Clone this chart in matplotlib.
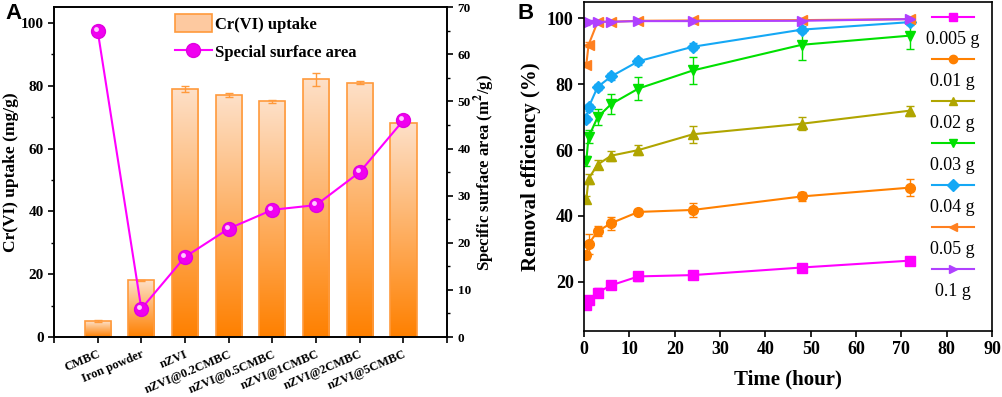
import numpy as np
import matplotlib
matplotlib.use("Agg")
import matplotlib.pyplot as plt
from matplotlib.colors import LinearSegmentedColormap
from matplotlib.lines import Line2D
from matplotlib.patches import Rectangle
import matplotlib.transforms as mtransforms

plt.rcParams['font.family'] = ['Liberation Serif', 'DejaVu Serif']
plt.rcParams['mathtext.fontset'] = 'stix'

# ---- panel A data ----
materials = ['CMBC', 'Iron powder', 'nZVI', 'nZVI@0.2CMBC', 'nZVI@0.5CMBC',
             'nZVI@1CMBC', 'nZVI@2CMBC', 'nZVI@5CMBC']
uptake = [5, 18, 79, 77, 75, 82, 81, 68]
uptake_err = [0.3, 0.3, 1.0, 0.6, 0.5, 2.0, 0.4, 0.2]
surface_area = [65, 6, 17, 23, 27, 28, 35, 46]

# ---- panel B data ----
time_h = [0.5, 1, 3, 6, 12, 24, 48, 72]
doses = ['0.005 g', '0.01 g', '0.02 g', '0.03 g', '0.04 g', '0.05 g', '0.1 g']
eff_0005 = [13, 14.3, 16.7, 18.9, 21.6, 22.0, 24.3, 26.4]
err_0005 = [1.0, 1.2, 1.5, 1.0, 1.3, 1.0, 0.8, 0.6]
eff_001 = [28, 31.5, 35.3, 37.8, 41.2, 41.8, 45.9, 48.6]
err_001 = [1.0, 3.0, 1.5, 2.0, 1.0, 2.0, 1.5, 2.5]
eff_002 = [45, 51.3, 55.6, 58.3, 60.0, 64.8, 68.0, 72.0]
err_002 = [1.0, 1.5, 1.5, 1.5, 1.5, 2.5, 2.0, 1.5]
eff_003 = [56.8, 64.0, 70.0, 74.0, 78.7, 84.2, 92.0, 94.8]
err_003 = [1.5, 2.0, 2.5, 3.0, 3.5, 4.0, 4.5, 4.0]
eff_004 = [69.4, 73.0, 79.2, 82.4, 87.0, 91.4, 96.6, 98.9]
err_004 = [1.0, 1.0, 1.0, 1.0, 1.0, 1.0, 1.0, 0.8]
eff_005 = [86, 92, 99.0, 99.0, 99.3, 99.4, 99.5, 99.8]
err_005 = [0.8, 0.8, 0.5, 0.5, 0.5, 0.5, 0.5, 0.3]
eff_01 = [98.8, 99.0, 99.0, 99.0, 99.2, 99.2, 99.3, 99.8]
err_01 = [0.8, 0.5, 0.5, 0.5, 0.5, 0.5, 0.5, 0.3]

series_b = [eff_0005, eff_001, eff_002, eff_003, eff_004, eff_005, eff_01]
errors_b = [err_0005, err_001, err_002, err_003, err_004, err_005, err_01]
colors_b = ['#FF00FF', '#FF8000', '#B0A500', '#00E000', '#15A8F5', '#FF8020', '#B040FF']
markers_b = ['s', 'o', '^', 'v', 'D', '<', '>']

fig = plt.figure(figsize=(10.03, 3.97), dpi=100)

# ================= panel A =================
axA = fig.add_axes([0.0538, 0.151, 0.392, 0.831])
axA2 = axA.twinx()
x = np.arange(1, len(materials) + 1)
bars = axA.bar(x, uptake, width=0.6, color='none', edgecolor='#FF9A3C',
               linewidth=1.2, zorder=2)
grad = LinearSegmentedColormap.from_list('g', ['#FF8000', '#FDE0C8'])
g = np.linspace(0, 1, 256).reshape(-1, 1)
for b in bars:
    x0, w, h = b.get_x(), b.get_width(), b.get_height()
    im = axA.imshow(g, cmap=grad, origin='lower', aspect='auto',
                    extent=[x0, x0 + w, 0, h], zorder=1)
    im.set_clip_path(b)
axA.errorbar(x, uptake, yerr=uptake_err, fmt='none', ecolor='#FF9A3C',
             elinewidth=1.0, capsize=3, capthick=1.0, zorder=3)
axA.set_xlim(0, 9)
axA.set_ylim(0, 105)
axA.set_xticks(range(10))
axA.set_xticklabels([''] + materials + [''], rotation=23, ha='right',
                    rotation_mode='anchor', fontsize=8.8, fontweight='bold')
axA.set_yticks([0, 20, 40, 60, 80, 100])
axA.set_yticks([10, 30, 50, 70, 90], minor=True)
axA.tick_params(axis='y', labelsize=11, width=1.2, length=4, direction='out')
axA.tick_params(axis='y', which='minor', width=1.0, length=2.5)
axA.tick_params(axis='x', width=1.2, length=4, direction='out', pad=4)
for lab in axA.get_yticklabels():
    lab.set_fontweight('bold')
axA.set_ylabel('Cr(VI) uptake (mg/g)', fontsize=12.5, fontweight='bold', labelpad=1)

axA2.set_ylim(0, 70)
axA2.set_yticks(range(0, 71, 10))
axA2.set_yticks(range(5, 70, 10), minor=True)
axA2.tick_params(axis='y', labelsize=9.5, width=1.2, length=4, direction='out')
axA2.tick_params(axis='y', which='minor', width=1.0, length=2.5)
for lab in axA2.get_yticklabels():
    lab.set_fontweight('bold')
axA2.set_ylabel('Specific surface area (m$^\\mathbf{2}$/g)', fontsize=12,
                fontweight='bold', rotation=90, labelpad=1)
axA2.plot(x, surface_area, color='#FF00FF', lw=1.5, marker='o', ms=10,
          mfc='#F000F0', mec='#E000E0', zorder=4)
hl = mtransforms.offset_copy(axA2.transData, fig=fig, x=-1.5, y=1.5, units='points')
axA2.plot(x, surface_area, ls='none', marker='o', ms=3.5, mfc='#FFC8FF',
          mec='none', transform=hl, zorder=5)
for ax in (axA, axA2):
    for s in ax.spines.values():
        s.set_linewidth(1.2)

leg_handles = [Rectangle((0, 0), 1, 1, facecolor='#FDC9A0', edgecolor='#FF9A3C', lw=1.2),
               Line2D([], [], color='#FF00FF', lw=1.5, marker='o', ms=10,
                      mfc='#F000F0', mec='#E000E0')]
axA2.legend(leg_handles, ['Cr(VI) uptake', 'Special surface area'],
            loc='upper left', bbox_to_anchor=(0.27, 1.025), frameon=False,
            prop={'weight': 'bold', 'size': 12}, handlelength=2.2,
            handleheight=1.3, labelspacing=0.6, handletextpad=0.2)

fig.text(0.005, 0.965, 'A', fontsize=16, fontweight='bold',
         family='Liberation Sans', va='center')

# ================= panel B =================
axB = fig.add_axes([0.5823, 0.1662, 0.4068, 0.8287])
for yv, ev, c, m in zip(series_b, errors_b, colors_b, markers_b):
    ms = 6 if m == 'D' else 7
    axB.errorbar(time_h, yv, yerr=ev, color=c, lw=1.5, marker=m, ms=ms,
                 capsize=3, elinewidth=1.0, capthick=1.0)
axB.set_xlim(0, 90)
axB.set_ylim(5, 105)
axB.set_xticks(range(0, 91, 10))
axB.set_yticks([20, 40, 60, 80, 100])
axB.tick_params(labelsize=13, width=1.2, length=4, direction='out')
for lab in axB.get_xticklabels() + axB.get_yticklabels():
    lab.set_fontweight('bold')
for s in axB.spines.values():
    s.set_linewidth(1.2)
axB.set_xlabel('Time (hour)', fontsize=15, fontweight='bold', labelpad=8)
axB.set_ylabel('Removal efficiency (%)', fontsize=15, fontweight='bold', labelpad=4)

# stacked legend: line sample above its label
for i, (lab, c, m) in enumerate(zip(doses, colors_b, markers_b)):
    yl = 0.955 - i * 0.1277
    axB.add_line(Line2D([0.852, 0.9035, 0.955], [yl, yl, yl], color=c, lw=1.5,
                        marker=m, ms=6, markevery=[1], transform=axB.transAxes))
    axB.text(0.903, yl - 0.068, lab, transform=axB.transAxes, fontsize=13,
             ha='center', va='center')

fig.text(0.516, 0.965, 'B', fontsize=16, fontweight='bold',
         family='Liberation Sans', va='center')

fig.savefig('out.png', dpi=100)
